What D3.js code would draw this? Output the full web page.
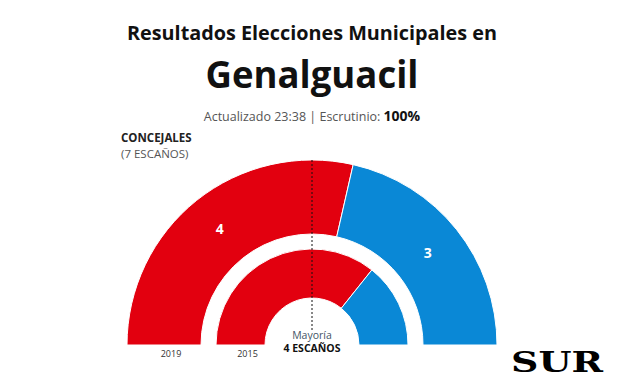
<!DOCTYPE html>
<html>
<head>
<meta charset="utf-8">
<script src="https://cdn.jsdelivr.net/npm/d3@7"></script>
<style>
body { margin:0; background:#fff; }
svg text { font-family: "Open Sans", "Noto Sans", sans-serif; }
svg text.logo { font-family: "DejaVu Serif", "Liberation Serif", serif; }
</style>
</head>
<body>
<svg width="624" height="385"></svg>
<script>
// seats per party, left (red) to right (blue)
var parties = ["PSOE", "PP"];
var colors = ["#e2000f", "#0a88d6"];
var seats2019 = [4, 3];
var seats2015 = [5, 2];
var years = ["2019", "2015"];
var totalSeats = 7;
var majority = 4;

var svg = d3.select("svg");
var cx = 312, cy = 345;

svg.append("text").attr("x", 312).attr("y", 40).attr("text-anchor", "middle")
	.attr("font-size", 20).attr("font-weight", "bold").attr("fill", "#111")
	.attr("textLength", 370).attr("lengthAdjust", "spacingAndGlyphs")
	.text("Resultados Elecciones Municipales en");
svg.append("text").attr("x", 312).attr("y", 88).attr("text-anchor", "middle")
	.attr("font-size", 38).attr("font-weight", "bold").attr("fill", "#111")
	.attr("textLength", 213).attr("lengthAdjust", "spacingAndGlyphs")
	.text("Genalguacil");
var sub = svg.append("text").attr("x", 312).attr("y", 121).attr("text-anchor", "middle")
	.attr("font-size", 12.5).attr("fill", "#555");
sub.append("tspan").text("Actualizado 23:38 | Escrutinio: ");
sub.append("tspan").attr("font-weight", "bold").attr("fill", "#111").attr("font-size", 14).text("100%");

svg.append("text").attr("x", 121).attr("y", 142).attr("font-size", 11.5)
	.attr("font-weight", "bold").attr("fill", "#222").text("CONCEJALES");
svg.append("text").attr("x", 121).attr("y", 158).attr("font-size", 11.5)
	.attr("fill", "#555").text("(" + totalSeats + " ESCAÑOS)");

var pie = d3.pie().sort(null).value(function(d) { return d; })
	.startAngle(-Math.PI / 2).endAngle(Math.PI / 2);

var rings = [
	{ data: seats2019, inner: 111, outer: 185, labels: true },
	{ data: seats2015, inner: 47, outer: 96, labels: false }
];

var g = svg.append("g").attr("transform", "translate(" + cx + "," + cy + ")");

rings.forEach(function(r, ri) {
	var arc = d3.arc().innerRadius(r.inner).outerRadius(r.outer);
	var arcs = pie(r.data);
	g.selectAll(null).data(arcs).enter().append("path")
		.attr("d", arc)
		.attr("fill", function(d, i) { return colors[i]; })
		.attr("stroke", "#fff")
		.attr("stroke-width", 1);
	if (r.labels) {
		g.selectAll(null).data(arcs).enter().append("text")
			.attr("transform", function(d) { return "translate(" + arc.centroid(d) + ")"; })
			.attr("text-anchor", "middle").attr("dy", "0.35em")
			.attr("font-size", 14).attr("font-weight", "bold").attr("fill", "#fff")
			.text(function(d) { return d.data; });
	}
	svg.append("text").attr("x", cx - (r.inner + r.outer) / 2 + 7).attr("y", 357)
		.attr("text-anchor", "middle").attr("font-size", 9).attr("fill", "#333")
		.text(years[ri]);
});

// majority line
g.append("line").attr("x1", 0).attr("x2", 0).attr("y1", -185).attr("y2", -13)
	.attr("stroke", "#111").attr("stroke-width", 1).attr("stroke-dasharray", "2,2");

svg.append("text").attr("x", cx).attr("y", 339).attr("text-anchor", "middle")
	.attr("font-size", 10.5).attr("fill", "#456").text("Mayoría");
svg.append("text").attr("x", cx).attr("y", 352).attr("text-anchor", "middle")
	.attr("font-size", 10.5).attr("font-weight", "bold").attr("fill", "#111")
	.text(majority + " ESCAÑOS");

svg.append("text").attr("class", "logo").attr("x", 557).attr("y", 372).attr("text-anchor", "middle")
	.attr("font-size", 28).attr("font-weight", "bold").attr("fill", "#000")
	.attr("textLength", 92).attr("lengthAdjust", "spacingAndGlyphs")
	.text("SUR");
</script>
</body>
</html>
